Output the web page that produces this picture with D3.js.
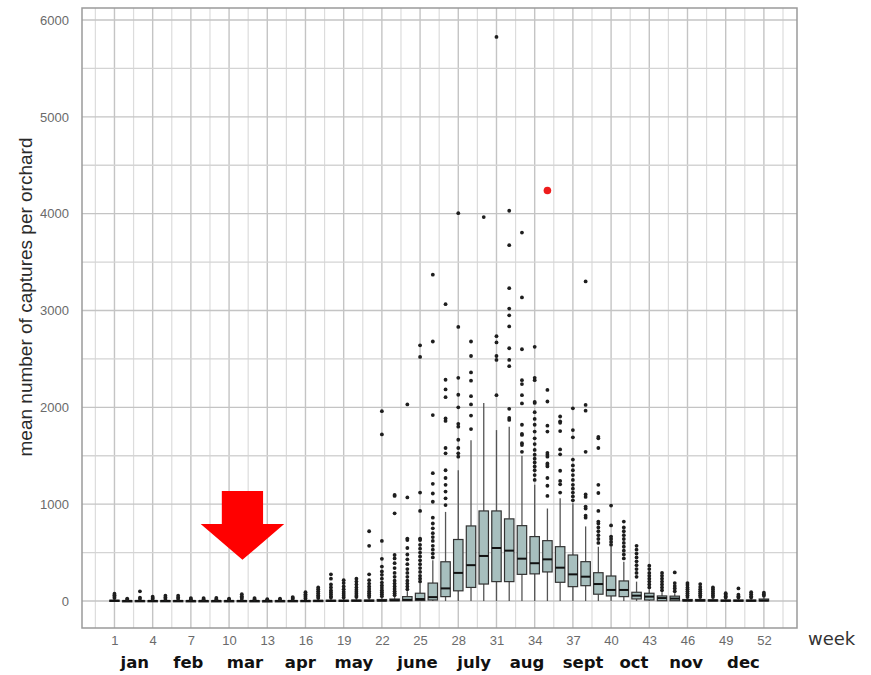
<!DOCTYPE html>
<html>
<head>
<meta charset="utf-8">
<script src="https://cdn.jsdelivr.net/npm/d3@7"></script>
<style>
  body { margin: 0; background: #fff; }
  svg { display: block; }
</style>
</head>
<body>
<div id="chart"></div>
<script>
// weekly capture summaries
const weeks = d3.range(1, 53);
const q1 = [0,0,0,0,0,0,0,0,0,0, 0,0,0,0,0,0,0,0,0,0, 0,0,2,3,5,10,45,105,140,175, 200,200,275,280,300,193,148,158,70,52, 45,21,10,3,3,0,0,0,0,0, 0,0];
const medians = [2,1,1,1,1,1,1,1,1,1, 1,1,1,1,1,1,2,2,2,3, 3,4,8,12,20,40,130,290,370,465, 547,520,437,390,430,344,275,251,175,114, 114,55,45,30,25,5,5,5,3,3, 3,5];
const q3 = [8,3,4,4,4,4,3,3,3,3, 4,3,2,3,4,5,6,8,8,10, 10,15,20,45,80,185,405,635,775,930, 930,848,778,665,623,561,475,406,292,258, 207,90,80,52,50,15,15,12,10,10, 10,20];
const whiskerLo = weeks.map(() => 0);
const whiskerHi = [20,8,10,10,10,10,8,8,8,6, 10,8,5,8,10,12,15,20,20,25, 25,35,45,100,180,420,920,1350,1660,2045, 1765,1800,1500,1200,955,1060,1010,770,560,561, 406,200,120,90,80,25,25,25,20,20, 20,40];
const outliers = [
  [30,45,60,75], [15,25], [20,35,100], [20,30,45], [20,35,55],
  [20,35,55], [18,30], [18,30], [18,32], [15,25],
  [20,35,50,70], [18,30], [12,18], [15,25], [20,30,40],
  [25,40,55,70,90], [30,45,60,80,100,120,140], [35,50,70,90,110,140,170,230,275],
  [35,55,75,95,120,150,185,215], [40,55,75,95,115,140,170,200,230],
  [40,60,80,100,125,150,180,215,275,570,720],
  [50,70,90,110,135,160,190,230,270,305,355,435,620,1720,1960],
  [60,80,100,125,150,180,210,250,290,340,390,440,475,905,1085,1095],
  [120,150,180,210,250,290,330,380,430,480,547,630,645,1070,2030],
  [200,230,260,300,340,380,420,460,500,540,580,630,645,930,1120,2520,2640],
  [450,490,530,570,620,660,700,750,800,860,1025,1110,1210,1320,1920,2680,3370],
  [990,1060,1130,1200,1270,1350,1525,1580,1860,1885,2105,2185,2285,3065],
  [1490,1525,1580,1665,1800,1830,2000,2130,2305,2830,4005],
  [1775,1915,2030,2115,2275,2360,2530,2680],
  [3965],
  [2125,2490,2530,2670,2735,5825],
  [1870,1890,1985,2425,2490,2610,2835,2950,3020,3230,3675,4030],
  [1540,1610,1630,1715,1725,1820,2040,2125,2240,2280,2600,3135,3805],
  [1250,1300,1350,1390,1430,1470,1510,1560,1620,1680,1750,1820,1880,1950,2045,2055,2280,2305,2625],
  [1085,1190,1270,1390,1405,1420,1490,1510,1530,1750,1810,2060,2180],
  [1120,1205,1240,1345,1515,1565,1755,1840,1855,1905],
  [1040,1080,1120,1160,1200,1250,1300,1350,1400,1460,1690,1765,1990],
  [860,880,955,975,1075,1100,1540,1965,2025,3300],
  [600,640,680,720,760,800,820,930,1115,1200,1580,1680,1695],
  [580,610,640,665,780,985],
  [440,480,520,560,600,640,680,720,760,820],
  [250,290,330,370,410,450,490,530,570],
  [140,170,200,230,260,290,330,365],
  [110,140,170,200,230,260,290],
  [100,130,155,185,295],
  [40,60,80,100,120,140,165,185],
  [40,60,80,100,120,145,175],
  [40,60,80,100,120,140],
  [35,50,65,80],
  [35,50,65,130],
  [35,50,70,90],
  [55,70,85]
];
// the highlighted orchard
const highlight = { week: 35, value: 4240 };

const weekTicks = d3.range(1, 53, 3);
const months = ["jan","feb","mar","apr","may","june","july","aug","sept","oct","nov","dec"];
const monthPos = [2.6, 6.8, 11.25, 15.6, 19.8, 24.8, 29.25, 33.4, 37.8, 41.8, 45.9, 50.4];
const yTicks = d3.range(0, 6001, 1000);
const yMinor = d3.range(500, 6000, 1000);

// arrow pointing at week 11 (in data units)
const arrow = { week: 11.05, tip: 425, headBase: 795, top: 1135, shaftHalf: 1.62, headHalf: 3.28 };

const width = 871, height = 675;
const panel = { left: 82, right: 797, top: 8, bottom: 628 };

const svg = d3.select("#chart").append("svg")
    .attr("width", width)
    .attr("height", height);

const x = d3.scaleLinear().domain([-1.55, 54.6]).range([panel.left, panel.right]);
const y = d3.scaleLinear().domain([-279, 6124]).range([panel.bottom, panel.top]);

// grid
const grid = svg.append("g");
grid.selectAll(".vminor")
    .data(d3.range(-0.5, 54, 3))
    .enter().append("line")
    .attr("x1", d => x(d)).attr("x2", d => x(d))
    .attr("y1", panel.top).attr("y2", panel.bottom)
    .attr("stroke", "#dcdcdc").attr("stroke-width", 1.2);
grid.selectAll(".vmajor")
    .data(weekTicks)
    .enter().append("line")
    .attr("x1", d => x(d)).attr("x2", d => x(d))
    .attr("y1", panel.top).attr("y2", panel.bottom)
    .attr("stroke", "#c4c4c4").attr("stroke-width", 1.4);
grid.selectAll(".hminor")
    .data(yMinor)
    .enter().append("line")
    .attr("x1", panel.left).attr("x2", panel.right)
    .attr("y1", d => y(d)).attr("y2", d => y(d))
    .attr("stroke", "#d4d4d4").attr("stroke-width", 1.3);
grid.selectAll(".hmajor")
    .data(yTicks)
    .enter().append("line")
    .attr("x1", panel.left).attr("x2", panel.right)
    .attr("y1", d => y(d)).attr("y2", d => y(d))
    .attr("stroke", "#c4c4c4").attr("stroke-width", 1.4);

// panel border
svg.append("rect")
    .attr("x", panel.left).attr("y", panel.top)
    .attr("width", panel.right - panel.left)
    .attr("height", panel.bottom - panel.top)
    .attr("fill", "none")
    .attr("stroke", "#9a9a9a")
    .attr("stroke-width", 1.5);

// boxes
const boxW = 0.37;
const rows = weeks.map((w, i) => ({
    week: w, q1: q1[i], med: medians[i], q3: q3[i],
    lo: whiskerLo[i], hi: whiskerHi[i], out: outliers[i]
}));

const boxes = svg.append("g").selectAll("g")
    .data(rows)
    .enter().append("g");

boxes.append("line")
    .attr("x1", d => x(d.week)).attr("x2", d => x(d.week))
    .attr("y1", d => y(d.hi)).attr("y2", d => y(d.q3))
    .attr("stroke", "#555").attr("stroke-width", 1.3);
boxes.append("line")
    .attr("x1", d => x(d.week)).attr("x2", d => x(d.week))
    .attr("y1", d => y(d.q1)).attr("y2", d => y(d.lo))
    .attr("stroke", "#555").attr("stroke-width", 1.3);
boxes.append("rect")
    .attr("x", d => x(d.week - boxW))
    .attr("width", d => x(d.week + boxW) - x(d.week - boxW))
    .attr("y", d => y(d.q3))
    .attr("height", d => Math.max(1.2, y(d.q1) - y(d.q3)))
    .attr("fill", "#a7bfbe")
    .attr("stroke", "#333")
    .attr("stroke-width", 1.2);
boxes.append("line")
    .attr("x1", d => x(d.week - boxW)).attr("x2", d => x(d.week + boxW))
    .attr("y1", d => y(d.med)).attr("y2", d => y(d.med))
    .attr("stroke", "#111").attr("stroke-width", 2);

boxes.selectAll("circle")
    .data(d => d.out.map(v => ({ week: d.week, value: v })))
    .enter().append("circle")
    .attr("cx", d => x(d.week))
    .attr("cy", d => y(d.value))
    .attr("r", 1.9)
    .attr("fill", "#1e1e1e");

// highlighted point
svg.append("circle")
    .attr("cx", x(highlight.week))
    .attr("cy", y(highlight.value))
    .attr("r", 3.8)
    .attr("fill", "#ee1c1c");

// arrow
const a = arrow;
const arrowPts = [
    [a.week - a.shaftHalf, a.top], [a.week + a.shaftHalf, a.top],
    [a.week + a.shaftHalf, a.headBase], [a.week + a.headHalf, a.headBase],
    [a.week, a.tip],
    [a.week - a.headHalf, a.headBase], [a.week - a.shaftHalf, a.headBase]
];
svg.append("polygon")
    .attr("points", arrowPts.map(p => x(p[0]) + "," + y(p[1])).join(" "))
    .attr("fill", "#ff0000");

// axes
const xAxis = svg.append("g")
    .attr("transform", "translate(0," + panel.bottom + ")")
    .call(d3.axisBottom(x).tickValues(weekTicks).tickSize(0).tickPadding(8));
xAxis.select(".domain").remove();
xAxis.selectAll("text")
    .style("font-family", "'Liberation Sans Narrow', 'Liberation Sans', Arial, sans-serif")
    .style("font-size", "13px")
    .attr("fill", "#6a6a6a");

const yAxis = svg.append("g")
    .attr("transform", "translate(" + panel.left + ",0)")
    .call(d3.axisLeft(y).tickValues(yTicks).tickSize(0).tickPadding(13).tickFormat(d3.format("d")));
yAxis.select(".domain").remove();
yAxis.selectAll("text")
    .style("font-family", "'Liberation Sans Narrow', 'Liberation Sans', Arial, sans-serif")
    .style("font-size", "13px")
    .attr("fill", "#6a6a6a");

// month labels
svg.selectAll(".month")
    .data(months)
    .enter().append("text")
    .attr("class", "month")
    .attr("x", (d, i) => x(monthPos[i]))
    .attr("y", 668)
    .attr("text-anchor", "middle")
    .style("font-family", "'DejaVu Sans', sans-serif")
    .style("font-weight", "bold")
    .style("font-size", "16.5px")
    .attr("fill", "#111")
    .text(d => d);

svg.append("text")
    .attr("x", 808)
    .attr("y", 645)
    .style("font-family", "'DejaVu Sans', sans-serif")
    .style("font-size", "18px")
    .attr("fill", "#333")
    .text("week");

// y-axis label
svg.append("text")
    .attr("transform", "translate(32,297) rotate(-90)")
    .attr("text-anchor", "middle")
    .style("font-family", "'Liberation Sans', Arial, sans-serif")
    .style("font-size", "19px")
    .attr("fill", "#2a2a2a")
    .text("mean number of captures per orchard");
</script>
</body>
</html>
